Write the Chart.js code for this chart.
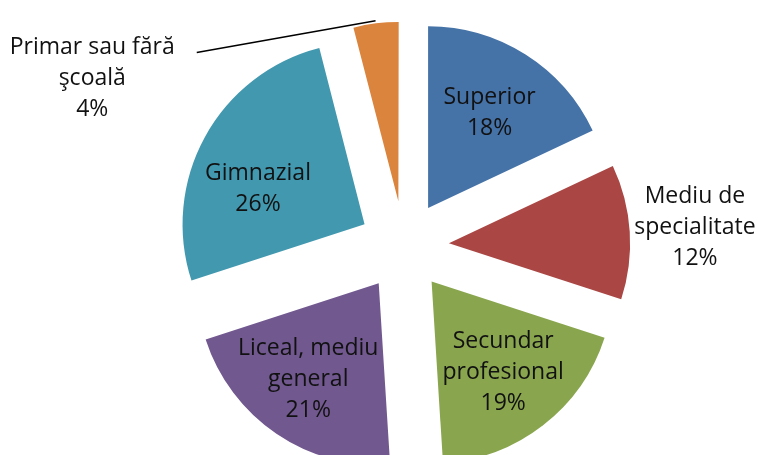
<!DOCTYPE html>
<html>
<head>
<meta charset="utf-8">
<script src="https://cdn.jsdelivr.net/npm/chart.js@4/dist/chart.umd.min.js"></script>
<style>
  html, body { margin: 0; padding: 0; background: #fff; overflow: hidden; }
  canvas { display: block; }
</style>
</head>
<body>
<canvas id="studiiChart" width="761" height="492"></canvas>
<script>
// date: nivel de educatie (%)
var categories = [
    ['Superior'],
    ['Mediu de', 'specialitate'],
    ['Secundar', 'profesional'],
    ['Liceal, mediu', 'general'],
    ['Gimnazial'],
    ['Primar sau fără', 'şcoală']
];
var shares = [18, 12, 19, 21, 26, 4];
var sliceColors = ['#4572A7', '#AA4643', '#89A54E', '#71588F', '#4198AF', '#DB843D'];

// aspect
var EXPLODE = 45;     // distanta de separare a feliilor, px
var RADIUS = 182;
var LINE = 31;        // spatiere intre randuri la etichete
// pozitia etichetelor: distanta (in raze, dupa separare) si rotire fata de bisectoare (grade)
var labelPlace = [
    { dist: 0.63, turn: 0 },
    { dist: 1.355, turn: -0.3 },
    { dist: 0.63, turn: -0.6 },
    { dist: 0.65, turn: 1.7 },
    { dist: 0.618, turn: -6.8 },
    { dist: 1.70, turn: -54.4, leader: true }
];

var total = shares.reduce(function(a, b) { return a + b; }, 0);

function sliceFix(i) {
    var circ = shares[i] / total * Math.PI * 2;
    return 1 - Math.sin(Math.min(Math.PI, circ));
}

// Chart.js mareste raza feliilor mici cand sunt separate si le ingusteaza;
// le aducem inapoi la raza si unghiul lor, ca la o diagrama Excel
var excelExplode = {
    id: 'excelExplode',
    afterDatasetUpdate: function(chart, args) {
        var ctrl = args.meta.controller;
        var R = ctrl.outerRadius;
        args.meta.data.forEach(function(arc, i) {
            var grow = EXPLODE * sliceFix(i);
            arc.outerRadius = R - grow;
            var widen = grow / (Math.PI * R) / 2;
            arc.startAngle -= widen;
            arc.endAngle += widen;
            arc.circumference = arc.endAngle - arc.startAngle;
        });
    }
};

var sliceLabels = {
    id: 'sliceLabels',
    afterDatasetsDraw: function(chart) {
        var ctx = chart.ctx;
        var meta = chart.getDatasetMeta(0);
        var R = meta.controller.outerRadius;
        ctx.save();
        ctx.font = '23px "Open Sans"';
        ctx.fillStyle = '#111';
        ctx.textAlign = 'center';
        ctx.textBaseline = 'alphabetic';
        meta.data.forEach(function(arc, i) {
            var p = arc.getProps(['x', 'y', 'startAngle', 'endAngle'], true);
            var mid = (p.startAngle + p.endAngle) / 2;
            var place = labelPlace[i];
            var a = mid + place.turn * Math.PI / 180;
            var d = EXPLODE + place.dist * R;
            var cx = p.x + Math.cos(a) * d;
            var cy = p.y + Math.sin(a) * d;
            var lines = categories[i].concat([shares[i] + '%']);
            lines.forEach(function(t, k) {
                ctx.fillText(t, cx, cy + (k - (lines.length - 1) / 2) * LINE + 8);
            });
            if (place.leader) {
                var ex = p.x + Math.cos(mid) * (EXPLODE + R);
                var ey = p.y + Math.sin(mid) * (EXPLODE + R);
                var w = ctx.measureText(lines[0]).width;
                var sx = cx + w / 2 + 22;
                var sy = cy - (lines.length - 1) / 2 * LINE + 6;
                ctx.beginPath();
                ctx.moveTo(sx, sy);
                ctx.lineTo(ex, ey);
                ctx.lineWidth = 1.5;
                ctx.strokeStyle = '#000';
                ctx.stroke();
            }
        });
        ctx.restore();
    }
};

function drawChart() {
    var ctx = document.getElementById('studiiChart').getContext('2d');
    new Chart(ctx, {
        type: 'pie',
        data: {
            labels: categories.map(function(c) { return c.join(' '); }),
            datasets: [{
                data: shares,
                backgroundColor: sliceColors,
                borderWidth: 0,
                offset: EXPLODE * 4
            }]
        },
        options: {
            responsive: false,
            animation: false,
            events: [],
            radius: RADIUS,
            layout: { padding: { left: 47 } },
            plugins: {
                legend: { display: false },
                tooltip: { enabled: false }
            }
        },
        plugins: [excelExplode, sliceLabels]
    });
}

document.addEventListener('DOMContentLoaded', function() {
    if (document.fonts && document.fonts.load) {
        document.fonts.load('23px "Open Sans"').then(drawChart, drawChart);
    } else {
        drawChart();
    }
});
</script>
</body>
</html>
